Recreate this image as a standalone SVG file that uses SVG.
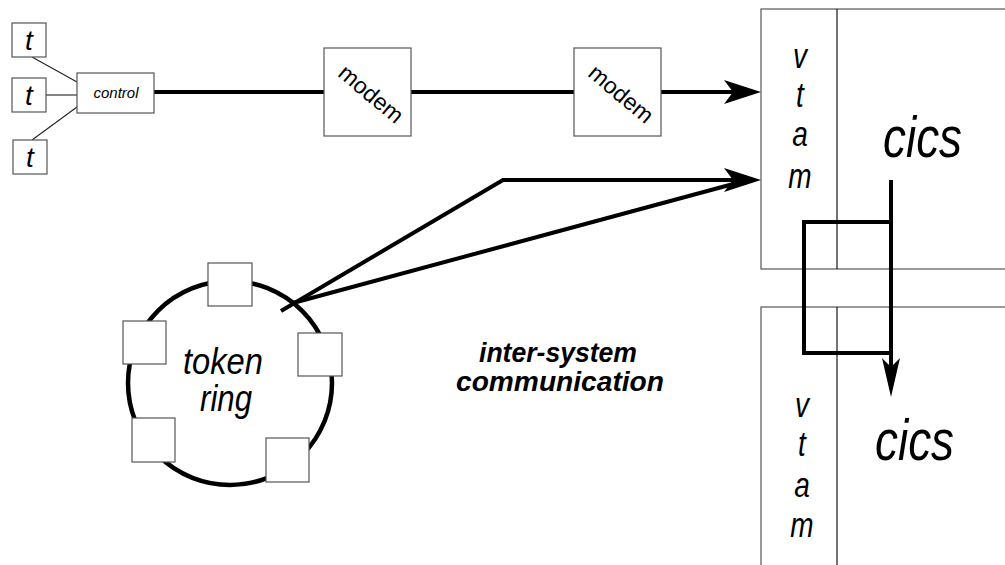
<svg xmlns="http://www.w3.org/2000/svg" width="1005" height="565" viewBox="0 0 1005 565">
<style>
.box{fill:#fff;stroke:#555;stroke-width:1.2}
.thin{fill:none;stroke:#222;stroke-width:1.1}
.thick{fill:none;stroke:#000;stroke-width:4}
.it{font-family:"Liberation Sans",Arial,sans-serif;font-style:italic;fill:#000}
.rg{font-family:"Liberation Sans",Arial,sans-serif;fill:#000}
.bi{font-family:"Liberation Sans",Arial,sans-serif;font-style:italic;font-weight:bold;fill:#000;font-size:28px;text-anchor:middle}
</style>
<defs>
<marker id="ah" viewBox="-10 -13 40 26" refX="0" refY="0" markerWidth="40" markerHeight="26" markerUnits="userSpaceOnUse" orient="auto">
<path d="M28,0 L-9,-12 L0,0 L-9,12 Z" fill="#000"/>
</marker>
<marker id="ah2" viewBox="-10 -10 42 20" refX="0" refY="0" markerWidth="42" markerHeight="20" markerUnits="userSpaceOnUse" orient="auto">
<path d="M30,0 L-9,-9 L0,0 L-9,9 Z" fill="#000"/>
</marker>
</defs>
<rect width="1005" height="565" fill="#fff"/>

<g id="host-top">
<rect x="761" y="9" width="260" height="260" fill="none" stroke="#555" stroke-width="1.2"/>
<line x1="837" y1="9" x2="837" y2="269" stroke="#000" stroke-width="1.1"/>
<text class="it" font-size="35" transform="translate(800,68) scale(0.8,1)" text-anchor="middle">v</text>
<text class="it" font-size="35" transform="translate(800,107) scale(0.8,1)" text-anchor="middle">t</text>
<text class="it" font-size="35" transform="translate(800,146) scale(0.8,1)" text-anchor="middle">a</text>
<text class="it" font-size="35" transform="translate(800,188) scale(0.8,1)" text-anchor="middle">m</text>
<text class="it" font-size="58" x="883" y="157" textLength="79" lengthAdjust="spacingAndGlyphs">cics</text>
</g>

<g id="host-bottom">
<rect x="761" y="307" width="260" height="280" fill="none" stroke="#555" stroke-width="1.2"/>
<line x1="837" y1="307" x2="837" y2="565" stroke="#000" stroke-width="1.1"/>
<text class="it" font-size="35" transform="translate(802,417) scale(0.8,1)" text-anchor="middle">v</text>
<text class="it" font-size="35" transform="translate(802,456) scale(0.8,1)" text-anchor="middle">t</text>
<text class="it" font-size="35" transform="translate(802,497) scale(0.8,1)" text-anchor="middle">a</text>
<text class="it" font-size="35" transform="translate(802,537) scale(0.8,1)" text-anchor="middle">m</text>
<text class="it" font-size="58" x="875" y="460" textLength="79" lengthAdjust="spacingAndGlyphs">cics</text>
</g>

<g id="connectors">
<line class="thin" x1="32" y1="57" x2="77" y2="82"/>
<line class="thin" x1="46" y1="95" x2="77" y2="95"/>
<line class="thin" x1="32" y1="140" x2="77" y2="107"/>
<line class="thick" x1="154" y1="92" x2="733" y2="92" marker-end="url(#ah)"/>
<polyline class="thick" points="281,311 503,180 733,180" marker-end="url(#ah)"/>
<line class="thick" x1="293" y1="303" x2="748" y2="180"/>
<line class="thick" x1="891" y1="180" x2="891" y2="367" marker-end="url(#ah2)"/>
<polyline class="thick" points="893,222 804,222 804,353 893,353"/>
</g>

<g id="terminals">
<g id="t1"><rect class="box" x="12" y="23" width="34" height="34"/><text class="it" font-size="28" x="29" y="50" text-anchor="middle">t</text></g>
<g id="t2"><rect class="box" x="12" y="78" width="34" height="34"/><text class="it" font-size="28" x="29" y="105" text-anchor="middle">t</text></g>
<g id="t3"><rect class="box" x="13" y="140" width="34" height="34"/><text class="it" font-size="28" x="30" y="167" text-anchor="middle">t</text></g>
</g>

<g id="control">
<rect class="box" x="77" y="73" width="77" height="40"/>
<text class="it" font-size="15" x="116" y="98" text-anchor="middle">control</text>
</g>

<g id="modem1">
<rect class="box" x="324" y="48" width="87" height="88"/>
<text class="rg" font-size="23" text-anchor="middle" transform="translate(366,100) rotate(40)">modem</text>
</g>
<g id="modem2">
<rect class="box" x="574" y="48" width="87" height="88"/>
<text class="rg" font-size="23" text-anchor="middle" transform="translate(616,100) rotate(40)">modem</text>
</g>

<g id="token-ring">
<circle cx="230" cy="383" r="102" fill="none" stroke="#000" stroke-width="4.5"/>
<rect class="box" x="208" y="263" width="44" height="43"/>
<rect class="box" x="123" y="321" width="43" height="43"/>
<rect class="box" x="298" y="333" width="44" height="43"/>
<rect class="box" x="132" y="418" width="43" height="44"/>
<rect class="box" x="266" y="438" width="43" height="44"/>
<text class="it" font-size="37" x="183" y="374" textLength="80" lengthAdjust="spacingAndGlyphs">token</text>
<text class="it" font-size="37" x="200" y="411" textLength="52" lengthAdjust="spacingAndGlyphs">ring</text>
</g>

<g id="label">
<text class="bi" x="558" y="362" textLength="158" lengthAdjust="spacingAndGlyphs">inter-system</text>
<text class="bi" x="560" y="391" textLength="208" lengthAdjust="spacingAndGlyphs">communication</text>
</g>
</svg>
